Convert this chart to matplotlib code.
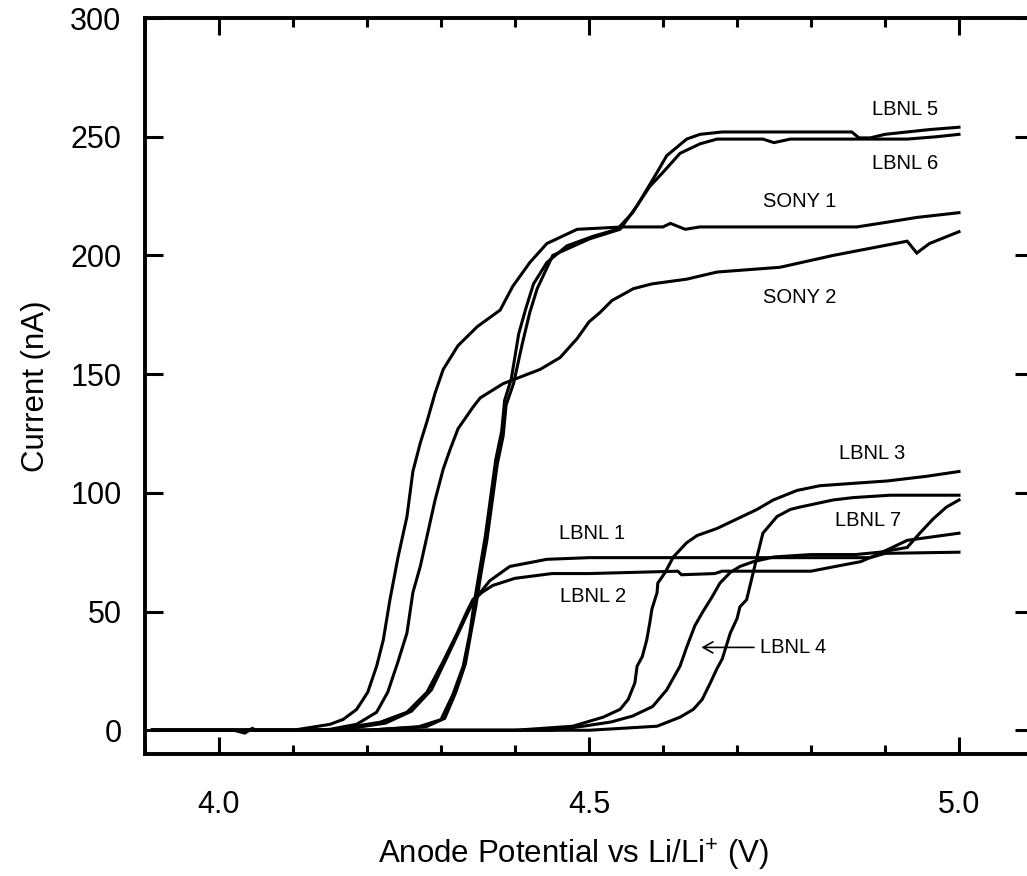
import matplotlib
matplotlib.use("Agg")
import matplotlib.pyplot as plt
from matplotlib.ticker import MultipleLocator, FixedLocator

plt.rcParams['font.family'] = ['Liberation Sans', 'DejaVu Sans']
plt.rcParams['mathtext.fontset'] = 'custom'
plt.rcParams['mathtext.rm'] = 'Liberation Sans'

# anode potential (V) and current (nA)
sony1_v = [3.91, 4.10, 4.15, 4.168, 4.186, 4.201, 4.213, 4.222, 4.231, 4.242, 4.254, 4.262, 4.272,
           4.281, 4.292, 4.303, 4.323, 4.349, 4.38, 4.397, 4.42, 4.443, 4.484, 4.546, 4.60, 4.61,
           4.63, 4.65, 4.862, 4.903, 4.943, 5.0]
sony1_i = [0, 0, 2.5, 4.6, 8.8, 16, 27, 38, 55, 73, 90, 109, 121,
           130, 142, 152, 162, 170, 177, 187, 197, 205, 211, 212, 212, 213.5,
           211, 212, 212, 214, 216, 218]

sony2_v = [3.91, 4.02, 4.035, 4.045, 4.05, 4.12, 4.15, 4.186, 4.213, 4.228, 4.242, 4.254, 4.262,
           4.272, 4.282, 4.292, 4.303, 4.312, 4.323, 4.343, 4.353, 4.384, 4.434, 4.461, 4.484,
           4.50, 4.515, 4.531, 4.56, 4.585, 4.632, 4.673, 4.758, 4.83, 4.93, 4.943, 4.96, 5.0]
sony2_i = [0, 0, -1.2, 0.8, 0, 0, 0.4, 2.5, 7.6, 16, 29, 41, 58,
           69, 83, 97, 110, 118, 127, 136, 140, 146, 152, 157, 165,
           172, 176, 181, 186, 188, 190, 193, 195, 200, 206, 201, 205, 210]

lbnl5_v = [3.91, 4.20, 4.27, 4.30, 4.316, 4.33, 4.339, 4.345, 4.352, 4.36, 4.367, 4.374, 4.382,
           4.386, 4.395, 4.405, 4.415, 4.425, 4.443, 4.47, 4.505, 4.538, 4.559, 4.569, 4.592,
           4.605, 4.632, 4.65, 4.68, 4.855, 4.865, 4.88, 4.90, 4.93, 4.96, 5.0]
lbnl5_i = [0, 0, 1.5, 4.5, 15, 27, 41, 54, 67, 82, 98, 114, 126,
           139, 148, 167, 178, 188, 197, 204, 208, 211, 218, 223, 235,
           242, 249, 251, 252, 252, 249.5, 249.5, 251, 252, 253, 254]

lbnl6_v = [3.91, 4.20, 4.28, 4.305, 4.32, 4.333, 4.341, 4.347, 4.354, 4.362, 4.369, 4.376, 4.384,
           4.388, 4.398, 4.41, 4.42, 4.43, 4.451, 4.501, 4.542, 4.565, 4.582, 4.60, 4.623,
           4.65, 4.673, 4.735, 4.75, 4.772, 4.93, 4.97, 5.0]
lbnl6_i = [0, 0, 1.5, 5, 16, 28, 42, 52, 66, 80, 96, 112, 124,
           137, 146, 163, 176, 186, 200, 207, 211, 221, 229, 235, 243,
           247, 249, 249, 247.5, 249, 249, 250, 251]

lbnl1_v = [3.91, 4.15, 4.218, 4.254, 4.281, 4.303, 4.322, 4.335, 4.343, 4.353, 4.366, 4.393,
           4.443, 4.50, 4.88, 4.90, 5.0]
lbnl1_i = [0, 0, 3.4, 7.6, 16, 29, 41, 50, 55, 58, 63, 69,
           72, 72.7, 72.7, 74.5, 75]

lbnl2_v = [3.91, 4.16, 4.225, 4.26, 4.287, 4.307, 4.325, 4.337, 4.345, 4.355, 4.37, 4.40,
           4.45, 4.50, 4.62, 4.625, 4.67, 4.68, 4.80, 4.833, 4.867, 4.893, 4.93, 5.0]
lbnl2_i = [0, 0, 3, 8, 17, 30, 42, 50, 55, 58, 61, 64,
           66, 66, 67, 65.5, 66, 67, 67, 69, 71, 74.5, 80, 83]

lbnl3_v = [3.91, 4.40, 4.478, 4.519, 4.542, 4.553, 4.562, 4.565, 4.572, 4.578, 4.582, 4.585,
           4.592, 4.593, 4.603, 4.614, 4.632, 4.646, 4.673, 4.70, 4.727, 4.749, 4.781, 4.812,
           4.857, 4.903, 4.957, 5.0]
lbnl3_i = [0, 0, 1.7, 5.5, 8.8, 13, 20, 27, 31, 38, 45, 51,
           58, 62, 66.5, 73, 79, 82, 85, 89, 93, 97, 101, 103,
           104, 105, 107, 109]

lbnl4_v = [3.91, 4.45, 4.492, 4.53, 4.559, 4.586, 4.605, 4.623, 4.632, 4.643, 4.654, 4.666,
           4.677, 4.691, 4.704, 4.722, 4.75, 4.80, 4.86, 4.893, 4.93, 4.947, 4.965, 4.983, 5.0]
lbnl4_i = [0, 0, 1.7, 3.5, 6, 10, 17, 27, 35, 44, 50, 56,
           62, 66.5, 69, 71, 73, 74, 74, 75, 77, 83, 89, 94, 97]

lbnl7_v = [3.91, 4.50, 4.592, 4.623, 4.641, 4.653, 4.664, 4.673, 4.68, 4.691, 4.70, 4.704,
           4.713, 4.727, 4.735, 4.754, 4.772, 4.785, 4.83, 4.857, 4.907, 5.0]
lbnl7_i = [0, 0, 1.7, 5.5, 8.8, 13, 20, 26, 30, 41, 47, 52,
           55, 73, 83, 90, 93, 94, 97, 98, 99, 99]

curves = [(sony1_v, sony1_i), (sony2_v, sony2_i), (lbnl1_v, lbnl1_i), (lbnl2_v, lbnl2_i),
          (lbnl3_v, lbnl3_i), (lbnl4_v, lbnl4_i), (lbnl5_v, lbnl5_i), (lbnl6_v, lbnl6_i),
          (lbnl7_v, lbnl7_i)]

# curve labels: text, x, y
labels = [("LBNL 5", 4.927, 261.4), ("LBNL 6", 4.927, 238.6), ("SONY 1", 4.785, 222.6),
          ("SONY 2", 4.785, 182.2), ("LBNL 3", 4.882, 116.6), ("LBNL 7", 4.877, 88.4),
          ("LBNL 1", 4.504, 82.9), ("LBNL 2", 4.506, 56.4)]

fig = plt.figure(figsize=(10.27, 8.76), dpi=100)
ax = fig.add_axes([145 / 1027, 122 / 876, 888 / 1027, 736 / 876])

for v, i in curves:
    ax.plot(v, i, color='black', lw=2.2, solid_joinstyle='miter')

for txt, x, y in labels:
    ax.text(x, y, txt, fontsize=14.5, ha='center', va='center')

# LBNL 4 with arrow
ax.annotate('', xy=(4.652, 34.9), xytext=(4.723, 34.9),
            arrowprops=dict(arrowstyle='->,head_length=0.7,head_width=0.4', lw=1.2, color='black',
                            shrinkA=0, shrinkB=0))
ax.text(4.731, 34.9, "LBNL 4", fontsize=14.5, ha='left', va='center')

ax.set_xlim(3.9, 5.1)
ax.set_ylim(-10, 300)
ax.xaxis.set_major_locator(FixedLocator([4.0, 4.5, 5.0]))
ax.xaxis.set_minor_locator(MultipleLocator(0.1))
ax.set_xticklabels(['4.0', '4.5', '5.0'])
ax.yaxis.set_major_locator(MultipleLocator(50))

ax.tick_params(which='both', direction='in', top=True, right=True, width=2.2, labelsize=22)
ax.tick_params(axis='x', which='major', length=12.5, pad=26)
ax.tick_params(axis='x', which='minor', length=6.5)
ax.tick_params(axis='y', which='major', length=13, pad=17)
for s in ax.spines.values():
    s.set_linewidth(2.8)

ax.set_xlabel("Anode Potential vs Li/Li$^{+}$ (V)", fontsize=22.5, labelpad=12, x=0.482)
ax.set_ylabel("Current (nA)", fontsize=22.5, labelpad=14)

fig.savefig("out.png", dpi=100)
